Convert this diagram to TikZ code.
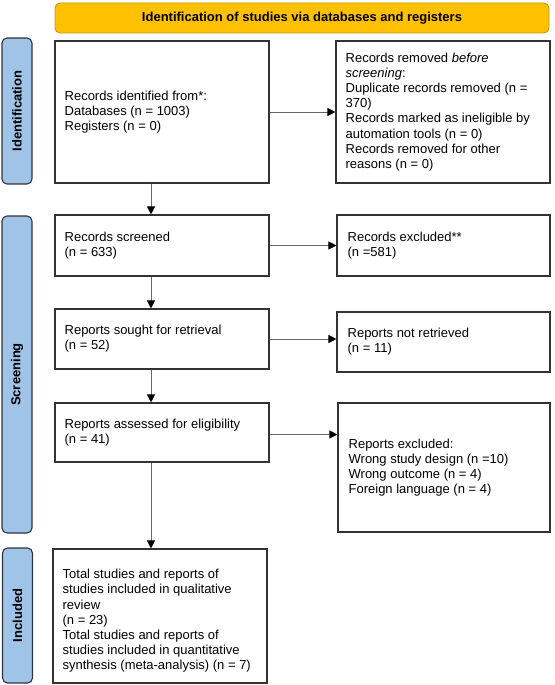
\documentclass[tikz,border=0pt]{standalone}
\usepackage{fontspec}
\setmainfont{Liberation Sans}
\usetikzlibrary{arrows.meta}
\definecolor{bannerfill}{HTML}{FFC000}
\definecolor{bannerdraw}{HTML}{C9990C}
\definecolor{sidefill}{HTML}{A0C4E8}
\definecolor{sidedraw}{HTML}{2E3440}
\definecolor{boxdraw}{HTML}{333333}
\definecolor{arrowline}{HTML}{666666}
\begin{document}
\begin{tikzpicture}[x=1pt,y=-1pt,
 banner/.style={draw=bannerdraw, fill=bannerfill, rounded corners=5pt, line width=0.9pt, font=\fontsize{13}{15}\selectfont\bfseries, inner sep=0pt},
 side/.style={draw=sidedraw, fill=sidefill, rounded corners=5pt, line width=1.1pt, rotate=90, font=\fontsize{13}{15}\selectfont\bfseries, minimum height=30pt, inner sep=0pt},
 box/.style={draw=boxdraw, fill=white, line width=1.1pt, inner sep=0pt},
 txt/.style={anchor=west, align=left, inner sep=0pt, font=\fontsize{13}{15.2}\selectfont},
 arr/.style={draw=arrowline, line width=0.9pt, -{Triangle[length=8pt,width=8pt,color=black]}}
]
\useasboundingbox (0,0) rectangle (554,685);

\node[banner, minimum width=494pt, minimum height=30pt] (banner) at (302,18) {Identification of studies via databases and registers};

\node[side, minimum width=146pt] (sidId) at (17,111) {Identification};
\node[side, minimum width=317pt] (sidScr) at (17,374.5) {Screening};
\node[side, minimum width=135pt] (sidInc) at (17.5,615.5) {Included};

% identification
\node[box, minimum width=214pt, minimum height=142pt] (idb) at (162,112) {};
\node[txt] (idt) at ([xshift=10pt]idb.west) {Records identified from*:\\Databases (n = 1003)\\Registers (n = 0)};
\node[box, minimum width=214pt, minimum height=142pt] (rem) at (443,112) {};
\node[txt] (remt) at ([xshift=10pt]rem.west) {Records removed \textit{before}\\\textit{screening}:\\Duplicate records removed (n =\\370)\\Records marked as ineligible by\\automation tools (n = 0)\\Records removed for other\\reasons (n = 0)};

% screening
\node[box, minimum width=214pt, minimum height=61pt] (scr) at (162,245.5) {};
\node[txt] (scrt) at ([xshift=10pt]scr.west) {Records screened\\(n = 633)};
\node[box, minimum width=213pt, minimum height=61pt] (exc) at (443.5,245.5) {};
\node[txt] (exct) at ([xshift=11pt]exc.west) {Records excluded**\\(n =581)};

\node[box, minimum width=214pt, minimum height=60pt] (sought) at (162,339) {};
\node[txt] (soughtt) at ([xshift=10pt]sought.west) {Reports sought for retrieval\\(n = 52)};
\node[box, minimum width=213pt, minimum height=60pt] (notret) at (443.5,342) {};
\node[txt] (notrett) at ([xshift=11pt]notret.west) {Reports not retrieved\\(n = 11)};

\node[box, minimum width=214pt, minimum height=59pt] (assess) at (162,432.5) {};
\node[txt] (assesst) at ([xshift=10pt]assess.west) {Reports assessed for eligibility\\(n = 41)};
\node[box, minimum width=212pt, minimum height=129pt] (repexc) at (444,467.5) {};
\node[txt] (repexct) at ([xshift=11pt]repexc.west) {Reports excluded:\\Wrong study design (n =10)\\Wrong outcome (n = 4)\\Foreign language (n = 4)};

% included
\node[box, minimum width=214pt, minimum height=134pt] (incl) at (160,616) {};
\node[txt] (inclt) at ([xshift=10pt,yshift=-5pt]incl.west) {Total studies and reports of\\studies included in qualitative\\review\\(n = 23)\\Total studies and reports of\\studies included in quantitative\\synthesis (meta-analysis) (n = 7)};

% connectors
\draw[arr] (idb.east) -- (rem.west);
\draw[arr] (scr.east) -- (exc.west);
\draw[arr] (sought.east) -- (sought.east -| notret.west);
\draw[arr] ([yshift=-2pt]assess.east) -- ([yshift=-2pt]assess.east -| repexc.west);

\draw[arr] ([xshift=-11pt]idb.south) -- ([xshift=-11pt]scr.north);
\draw[arr] ([xshift=-11pt]scr.south) -- ([xshift=-11pt]sought.north);
\draw[arr] ([xshift=-11pt]sought.south) -- ([xshift=-11pt]assess.north);
\draw[arr] ([xshift=-11pt]assess.south) -- ([xshift=-11pt]assess.south |- incl.north);
\end{tikzpicture}
\end{document}
